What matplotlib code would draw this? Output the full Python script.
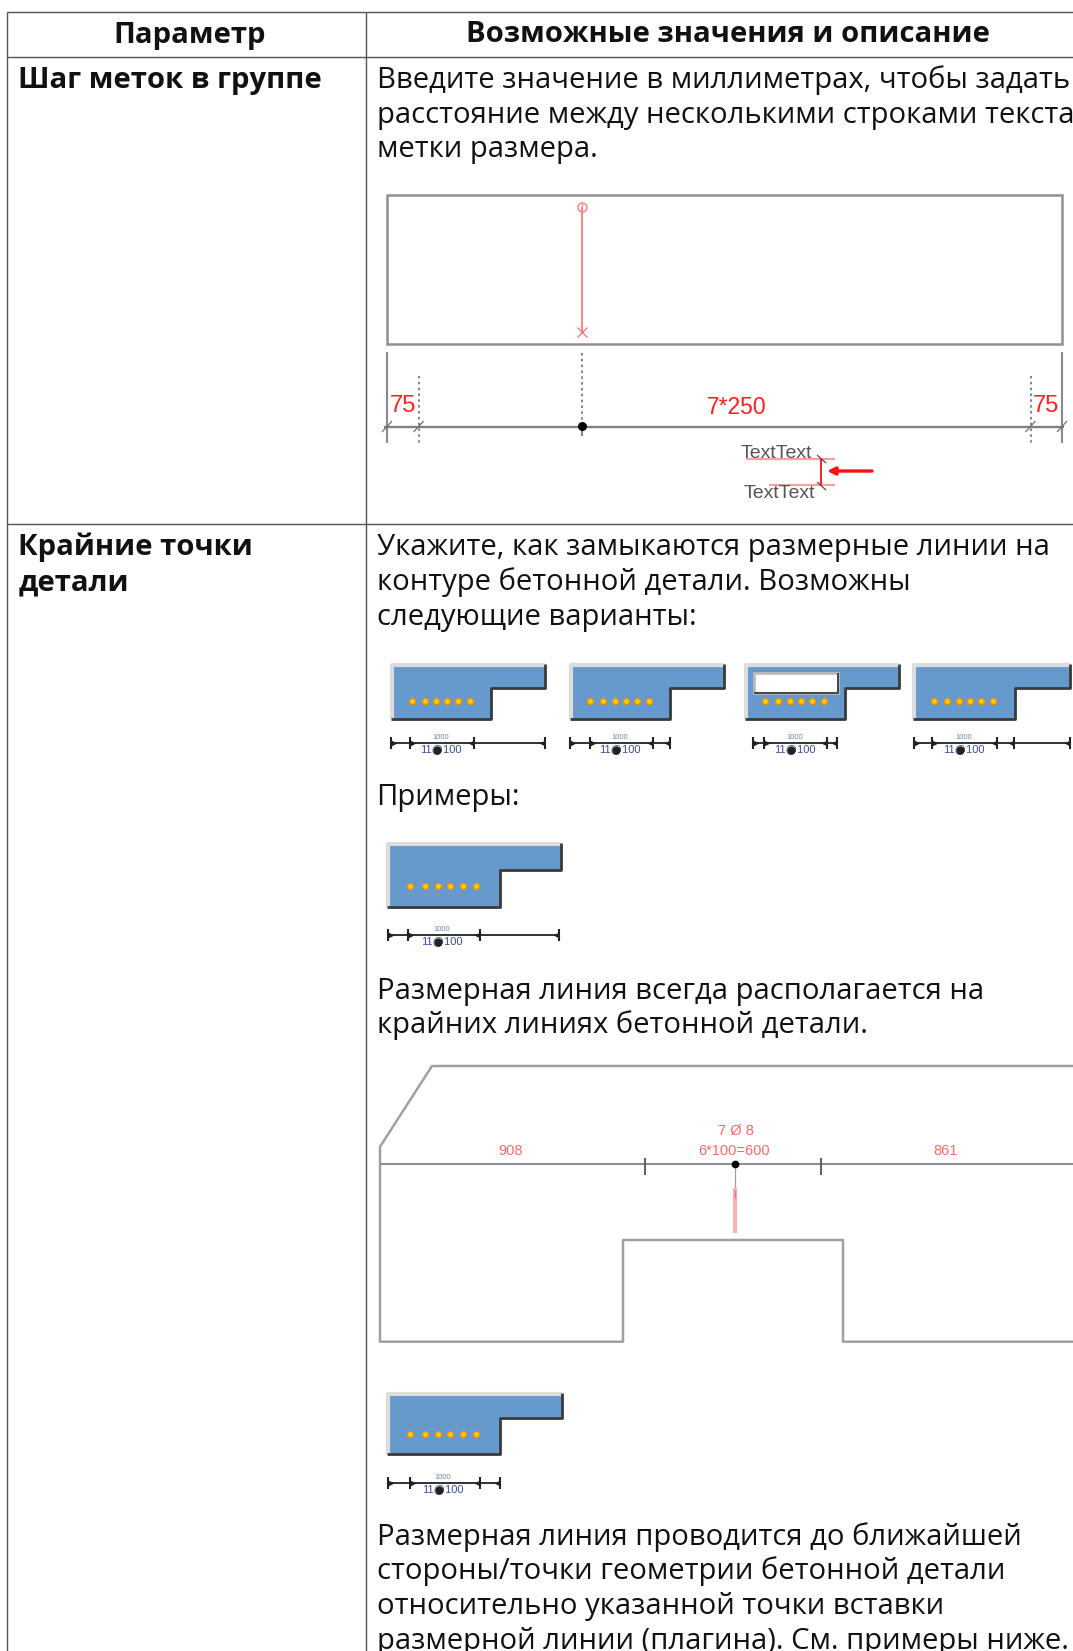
import matplotlib
matplotlib.use("Agg")
import matplotlib.pyplot as plt
from matplotlib.patches import Polygon, Rectangle

W, H = 1073, 1651
BODY = ['Open Sans', 'Noto Sans', 'DejaVu Sans']
NARROW = ['Liberation Sans Narrow', 'Liberation Sans', 'DejaVu Sans']
SIZE = 21.08

# ---- text content ----
header_labels = ["Параметр", "Возможные значения и описание"]
param_lines_1 = ["Шаг меток в группе"]
param_lines_2 = ["Крайние точки", "детали"]
body_block_1 = ["Введите значение в миллиметрах, чтобы задать",
                "расстояние между несколькими строками текста",
                "метки размера."]
body_block_2 = ["Укажите, как замыкаются размерные линии на",
                "контуре бетонной детали. Возможны",
                "следующие варианты:"]
body_block_3 = ["Примеры:"]
body_block_4 = ["Размерная линия всегда располагается на",
                "крайних линиях бетонной детали."]
body_block_5 = ["Размерная линия проводится до ближайшей",
                "стороны/точки геометрии бетонной детали",
                "относительно указанной точки вставки",
                "размерной линии (плагина). См. примеры ниже."]
dim_labels_top = ["75", "7*250", "75"]
dim_labels_profile = ["908", "7 Ø 8", "6*100=600", "861"]
mini_top = "1000"
mini_bottom = "11@100"
sample_text = "TextText"

fig = plt.figure(figsize=(W / 100, H / 100), dpi=100, facecolor='white')
ax = fig.add_axes([0, 0, 1, 1])
ax.set_xlim(0, W)
ax.set_ylim(H, 0)
ax.axis('off')

GRID = '#555555'
LINE = '#8a8a8a'
RED = '#ff2020'
PALE = '#ff6a6a'


def seg(xs, ys, color=LINE, lw=1.5, ls='-', z=3, **kw):
    ax.plot(xs, ys, color=color, lw=lw, ls=ls, zorder=z,
            solid_capstyle='butt', clip_on=True, **kw)


def lines(block, x, first_base, size=SIZE, weight='normal', step=34.5):
    for i, s in enumerate(block):
        ax.text(x, first_base + i * step, s, family=BODY, fontsize=size,
                fontweight=weight, color='#111111', va='baseline', ha='left')


# ---- table grid ----
seg([7, W], [12, 12], GRID, 1.0)
seg([7, W], [57, 57], GRID, 1.0)
seg([7, W], [524, 524], GRID, 1.0)
seg([6.5, 6.5], [12, H], GRID, 1.0)
seg([366, 366], [12, H], GRID, 1.0)

ax.text(189.5, 42.5, header_labels[0], family=BODY, fontsize=SIZE, fontweight='bold',
        ha='center', va='baseline', color='#111111')
ax.text(727.5, 42.5, header_labels[1], family=BODY, fontsize=SIZE, fontweight='bold',
        ha='center', va='baseline', color='#111111')
lines(param_lines_1, 18.5, 88, weight='bold')
lines(param_lines_2, 18.5, 555.5, weight='bold')
lines(body_block_1, 377, 88)
lines(body_block_2, 377, 555.5)
lines(body_block_3, 376, 805)
lines(body_block_4, 377, 999)
lines(body_block_5, 377, 1545)

# ---- first drawing ----
ax.add_patch(Rectangle((387, 195), 675, 149, fill=False, ec='#909090', lw=1.8, zorder=3))
seg([582.3, 582.3], [207, 332], '#ff7070', 1.2)
ax.plot([582.3], [207], marker='o', ms=6.5, mfc='none', mec='#ff8080', mew=1, zorder=4)
seg([582.3, 582.3], [203, 211], '#ff8080', 0.8)
ax.plot([582.3], [332], marker='x', ms=6.5, mec='#ff7070', mew=0.9, zorder=4)
seg([387, 387], [352, 443], LINE, 1.5)
seg([1062, 1062], [352, 443], LINE, 1.5)
for x, y0 in [(418.6, 376), (582.3, 353), (1030.5, 376)]:
    y1 = 420 if x == 582.3 else 443
    seg([x, x], [y0, y1], '#707070', 1.2, ls=(0, (1.5, 2)))
seg([384, 1064], [426.7, 426.7], '#808080', 1.7)
for x in (387, 418.6, 1030.5, 1062):
    seg([x - 5, x + 5], [432, 421], '#707070', 0.9)
seg([582.3, 582.3], [426, 436], '#808080', 1.5)
ax.plot([582], [426], marker='o', ms=6.5, color='black', mec='none', zorder=5)
for lab, x, y, fs in zip(dim_labels_top, (403, 737, 1046), (406, 408, 406), (17, 16.5, 17)):
    ax.text(x, y, lab, family=NARROW, fontsize=fs, color=RED, ha='center', va='center', zorder=5)
ax.text(741, 453, sample_text, family=NARROW, fontsize=14, color='#555555', va='center', ha='left', zorder=5)
ax.text(744, 493, sample_text, family=NARROW, fontsize=14, color='#555555', va='center', ha='left', zorder=5)
seg([746.4, 835], [459, 459], '#ffa0a0', 1.6)
seg([769, 835], [485, 485], '#ffa0a0', 1.6)
seg([821.4, 821.4], [459, 485], RED, 1.4, z=4)
seg([817, 826], [455, 463], '#704040', 0.9, z=4)
seg([817, 826], [482, 490], '#704040', 0.9, z=4)
ax.annotate('', xy=(827, 471), xytext=(872, 471), zorder=5,
            arrowprops=dict(arrowstyle='-|>,head_width=0.22,head_length=0.45', color='#ff1010', lw=2.4,
                            shrinkA=0, shrinkB=0))


# ---- blue section icons ----
def profile(x0, x1, xs, y0, ys, y1, dots, doty, hole=None):
    pts = [(x0, y0), (x1, y0), (x1, ys), (xs, ys), (xs, y1), (x0, y1)]
    ax.add_patch(Polygon(pts, closed=True, fc='#6699cc', ec='none', zorder=2))
    seg([x0, x1], [y0 + 1, y0 + 1], '#dcdcdc', 3, z=3)
    seg([x0 + 1, x0 + 1], [y0, y1], '#dcdcdc', 3, z=3)
    seg([x1, x1, xs, xs, x0], [y0, ys, ys, y1, y1], '#3a3a3a', 2.0, z=4)
    if hole:
        hx0, hx1, hy0, hy1 = hole
        ax.add_patch(Rectangle((hx0, hy0), hx1 - hx0, hy1 - hy0, fc='white', ec='#bbbbbb', lw=2, zorder=4))
        seg([hx1, hx1, hx0], [hy0, hy1, hy1], '#444444', 1.4, z=5)
    ax.plot(dots, [doty] * len(dots), ls='none', marker='o', ms=4.2, mfc='#ffd000', mec='#ff9000', mew=0.9, zorder=6)


def dimline(ticks, y, cx, dotx):
    seg([ticks[0], ticks[-1]], [y, y], '#222222', 1.3, z=4)
    for i, t in enumerate(ticks):
        seg([t, t], [y - 6, y + 6], '#222222', 1.5, z=4)
        mark = '>' if i < 2 else '<'
        off = 3 if i < 2 else -3
        ax.plot([t + off], [y], marker=mark, ms=5, color='#222222', mec='none', zorder=4)
    ax.text(cx, y - 5.5, mini_top, family=NARROW, fontsize=5.5, color='#6a8aa0', ha='center', va='center', zorder=5)
    ax.text(cx, y + 6.5, mini_bottom, family=NARROW, fontsize=8, color='#3a4f90', ha='center', va='center', zorder=5)
    ax.plot([dotx], [y + 7], marker='o', ms=6, color='#222222', mec='none', zorder=6)


dots_a = [20.7, 33.7, 45.4, 56, 67.3, 79]
dots_b = [23, 37.5, 50.5, 63, 75.5, 88.5]

profile(391, 545, 491, 664, 688, 719, [391 + d for d in dots_a], 701)
dimline([391, 410.4, 474, 545], 743, 441, 437)
profile(569.5, 724, 670, 664, 688, 719, [569.5 + d for d in dots_a], 701)
dimline([569.5, 590, 652.5, 670.4], 743, 620, 616)
profile(744.5, 899, 845, 664, 688, 719, [744.5 + d for d in dots_a], 701, hole=(753.5, 837.5, 673, 693))
dimline([753.4, 763.7, 827.4, 837.3], 743, 795, 791)
profile(912.6, 1070, 1015, 664, 688, 719, [912.6 + 1 + d for d in dots_a], 701)
dimline([913.5, 932, 997, 1014.4, 1069.5], 743, 964, 960)

profile(387, 560.6, 500, 843.5, 870, 906.7, [387 + d for d in dots_b], 886)
dimline([388, 408, 480, 559], 935, 442, 438)

# ---- section profile drawing ----
seg([1073, 432, 380, 380, 623, 623, 843, 843, 1073],
    [1066, 1066, 1146.7, 1341.7, 1341.7, 1240, 1240, 1341.7, 1341.7], '#a0a0a0', 1.8)
seg([380, 1073], [1164.3, 1164.3], '#8c8c8c', 1.4)
for x in (645, 820.7):
    seg([x, x], [1158, 1175], '#606060', 1.4)
seg([734.6, 734.6], [1164, 1188], '#a0a0a0', 0.9)
seg([734.6, 734.6], [1188, 1233], '#ffb0b0', 3.0)
seg([734.6, 734.6], [1190, 1198], '#d08080', 1.0, z=4)
ax.plot([734.6], [1164.3], marker='o', ms=5.5, color='black', mec='none', zorder=5)
for lab, x, y in zip(dim_labels_profile, (511, 735.5, 734, 946), (1150.7, 1131, 1150.7, 1150.7)):
    ax.text(x, y, lab, family=NARROW, fontsize=10.5, color=PALE, ha='center', va='center', zorder=5)

# ---- last icon ----
profile(387, 561.5, 500, 1392.7, 1418, 1454, [387 + d for d in dots_b], 1434)
dimline([388, 409.5, 480, 500], 1483, 443, 439)

fig.savefig('out.png', dpi=100, facecolor='white')
